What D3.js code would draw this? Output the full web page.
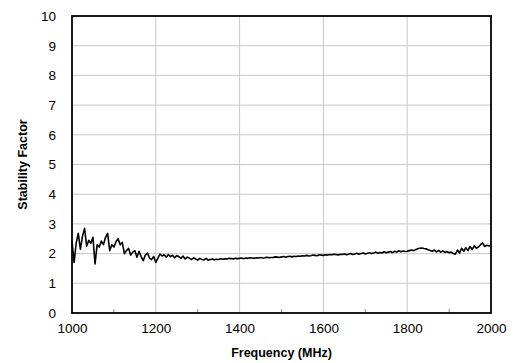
<!DOCTYPE html>
<html><head><meta charset="utf-8">
<script src="https://cdn.jsdelivr.net/npm/d3@7/dist/d3.min.js"></script>
<style>body{margin:0;background:#fff;} text{font-family:Arial,"Liberation Sans",sans-serif;}</style>
</head><body><svg id="c" width="517" height="363"></svg>
<script>
const frequencies = [1000,1005,1010,1015,1020,1025,1030,1035,1040,1045,1050,1055,1060,1065,1070,1075,1080,1085,1090,1095,
1100,1105,1110,1115,1120,1125,1130,1135,1140,1145,1150,1155,1160,1165,1170,1175,1180,1185,1190,1195,
1200,1205,1210,1215,1220,1225,1230,1235,1240,1245,1250,1255,1260,1265,1270,1275,1280,1285,1290,1295,
1300,1305,1310,1315,1320,1325,1330,1335,1340,1345,1350,1355,1360,1365,1370,1375,1380,1385,1390,1395,
1400,1405,1410,1415,1420,1425,1430,1435,1440,1445,1450,1455,1460,1465,1470,1475,1480,1485,1490,1495,
1500,1505,1510,1515,1520,1525,1530,1535,1540,1545,1550,1555,1560,1565,1570,1575,1580,1585,1590,1595,
1600,1605,1610,1615,1620,1625,1630,1635,1640,1645,1650,1655,1660,1665,1670,1675,1680,1685,1690,1695,
1700,1705,1710,1715,1720,1725,1730,1735,1740,1745,1750,1755,1760,1765,1770,1775,1780,1785,1790,1795,
1800,1805,1810,1815,1820,1825,1830,1835,1840,1845,1850,1855,1860,1865,1870,1875,1880,1885,1890,1895,
1900,1905,1910,1915,1920,1925,1930,1935,1940,1945,1950,1955,1960,1965,1970,1975,1980,1985,1990,1995,2000];
const stability = [2.42,1.70,2.35,2.68,2.15,2.58,2.85,2.25,2.45,2.35,2.55,1.65,2.30,2.22,2.42,2.30,2.55,2.68,2.10,2.30,
2.22,2.40,2.50,2.30,2.38,2.00,2.10,2.18,1.95,2.05,2.10,1.88,2.08,1.90,1.76,1.95,2.02,1.85,1.80,1.90,
1.70,1.85,1.98,1.92,1.96,1.88,1.97,1.90,1.94,1.86,1.93,1.90,1.84,1.92,1.82,1.88,1.85,1.80,1.86,1.82,
1.78,1.84,1.80,1.79,1.84,1.78,1.80,1.82,1.79,1.81,1.80,1.83,1.81,1.83,1.82,1.84,1.83,1.82,1.84,1.83,
1.84,1.85,1.83,1.85,1.84,1.86,1.85,1.84,1.86,1.85,1.87,1.85,1.86,1.88,1.86,1.87,1.87,1.89,1.88,1.87,
1.89,1.90,1.88,1.90,1.91,1.89,1.91,1.90,1.92,1.91,1.93,1.92,1.94,1.92,1.93,1.95,1.94,1.93,1.96,1.95,
1.94,1.96,1.95,1.97,1.96,1.98,1.97,1.95,1.98,1.97,1.99,1.96,1.98,2.00,1.97,1.99,2.01,1.98,2.00,2.02,
1.99,2.01,2.03,2.00,2.02,2.05,2.01,2.04,2.02,2.06,2.03,2.05,2.07,2.03,2.08,2.05,2.10,2.06,2.09,2.07,
2.08,2.10,2.12,2.10,2.13,2.16,2.18,2.19,2.17,2.16,2.13,2.10,2.08,2.12,2.06,2.11,2.05,2.09,2.04,2.07,
2.03,2.05,2.00,1.98,2.12,2.02,2.18,2.08,2.20,2.10,2.24,2.14,2.26,2.18,2.22,2.30,2.36,2.24,2.28,2.26,2.27];
const xTicks = [1000,1200,1400,1600,1800,2000];
const xMinorTicks = [1100,1300,1500,1700,1900];
const yTicks = [0,1,2,3,4,5,6,7,8,9,10];
const xTitle = "Frequency (MHz)";
const yTitle = "Stability Factor";

const L=72, R=491, T=16, B=313;
const svg = d3.select("#c");
const x = d3.scaleLinear().domain([1000,2000]).range([L,R]);
const y = d3.scaleLinear().domain([0,10]).range([B,T]);

// gridlines
svg.append("g").selectAll("line").data(yTicks.slice(1,-1)).join("line")
  .attr("x1",L).attr("x2",R).attr("y1",d=>y(d)).attr("y2",d=>y(d))
  .attr("stroke","#c8c8c8").attr("stroke-width",1);
svg.append("g").selectAll("line").data(xTicks.slice(1,-1)).join("line")
  .attr("y1",T).attr("y2",B).attr("x1",d=>x(d)).attr("x2",d=>x(d))
  .attr("stroke","#c8c8c8").attr("stroke-width",1);

// minor ticks (inside)
svg.append("g").selectAll("line").data(xMinorTicks).join("line")
  .attr("x1",d=>x(d)).attr("x2",d=>x(d)).attr("y1",B).attr("y2",B-4)
  .attr("stroke","#888").attr("stroke-width",1);

// line
const line = d3.line().x((d,i)=>x(frequencies[i])).y(d=>y(d));
svg.append("path").datum(stability).attr("d",line)
  .attr("fill","none").attr("stroke","#000").attr("stroke-width",1.6).attr("stroke-linejoin","round");

// border
svg.append("rect").attr("x",L).attr("y",T).attr("width",R-L).attr("height",B-T)
  .attr("fill","none").attr("stroke","#000").attr("stroke-width",1.8);

// axes labels via d3 axes
const xAxis = d3.axisBottom(x).tickValues(xTicks).tickSize(0).tickPadding(10).tickFormat(d3.format("d"));
const gx = svg.append("g").attr("transform",`translate(0,${B})`).call(xAxis);
gx.select(".domain").remove();
gx.selectAll("text").attr("font-size","13.5px").attr("fill","#000").attr("font-family","Arial, 'Liberation Sans', sans-serif");

const yAxis = d3.axisLeft(y).tickValues(yTicks).tickSize(0).tickPadding(16).tickFormat(d3.format("d"));
const gy = svg.append("g").attr("transform",`translate(${L},0)`).call(yAxis);
gy.select(".domain").remove();
gy.selectAll("text").attr("font-size","13.5px").attr("fill","#000").attr("font-family","Arial, 'Liberation Sans', sans-serif");

svg.append("text").attr("x",(L+R)/2).attr("y",357).attr("text-anchor","middle")
  .attr("font-weight","bold").attr("font-size","12.5px").text(xTitle);
svg.append("text").attr("transform",`translate(27,${(T+B)/2}) rotate(-90)`).attr("text-anchor","middle")
  .attr("font-weight","bold").attr("font-size","12.5px").text(yTitle);
</script></body></html>
